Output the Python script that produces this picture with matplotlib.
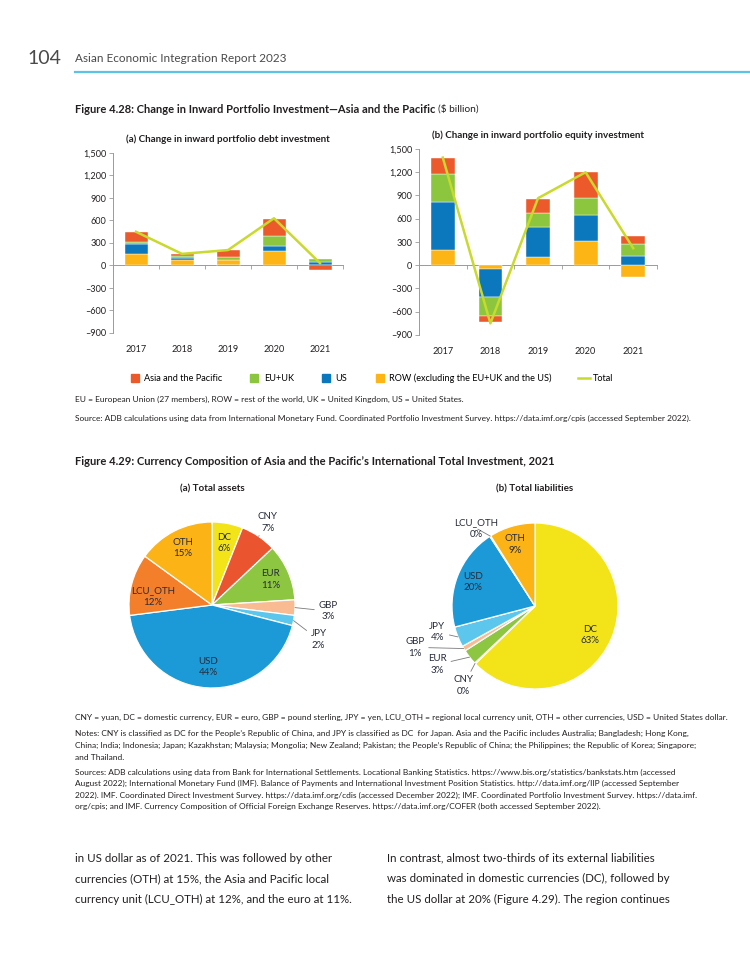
import numpy as np
import matplotlib
matplotlib.use("Agg")
import matplotlib.pyplot as plt
from matplotlib.lines import Line2D
from matplotlib.ticker import FuncFormatter

plt.rcParams['font.family'] = ['Lato', 'DejaVu Sans']

# ---- Figure 4.28 data ($ billion) ----
years = ['2017', '2018', '2019', '2020', '2021']

debt_row = [159, 75, 70, 194, 0]
debt_us = [128, 31, -8, 70, 44]
debt_euuk = [31, 18, 40, 128, 48]
debt_asia = [132, 31, 101, 234, -66]
debt_total = [450, 155, 206, 630, 32]

eq_row = [197, -47, 111, 313, -155]
eq_us = [613, -369, 381, 334, 125]
eq_euuk = [373, -244, 176, 227, 147]
eq_asia = [206, -77, 189, 326, 99]
eq_total = [1389, -750, 865, 1200, 220]

y_ticks = [-900, -600, -300, 0, 300, 600, 900, 1200, 1500]

# ---- Figure 4.29 data (% share) ----
currencies = ['DC', 'CNY', 'EUR', 'GBP', 'JPY', 'USD', 'LCU_OTH', 'OTH']
assets_share = [6, 7, 11, 3, 2, 44, 12, 15]
liab_share = [63, 0.2, 3, 1, 4, 20, 0.2, 9]

# colours
C_ASIA, C_EU, C_US, C_ROW = '#EC5A2C', '#8CC63F', '#0B77BD', '#FDB515'
C_TOTAL = '#C8DA2B'
pie_colors = {'DC': '#F3E41A', 'CNY': '#EA5530', 'EUR': '#8DC641', 'GBP': '#F9BC92',
              'JPY': '#5DC6EC', 'USD': '#1B9AD7', 'LCU_OTH': '#F47F2B', 'OTH': '#FCB316'}
TXT = '#231F20'
GRAY = '#9A9A9A'

W, H = 750, 971
fx = lambda x: x / W
fy = lambda y: 1 - y / H

fig = plt.figure(figsize=(7.5, 9.71), dpi=100)

# ---- page header ----
fig.text(fx(27), fy(58), '104', fontsize=14, color='#4A4A4A', va='center')
fig.text(fx(75), fy(58), 'Asian Economic Integration Report 2023', fontsize=8.5,
         color='#4A4A4A', va='center')
fig.add_artist(Line2D([fx(75), 1], [fy(72), fy(72)], color='#5BC4E6', lw=1.6))

renderer = fig.canvas.get_renderer()


def title_with_unit(x, y, bold, regular=None, size=8.0):
    t = fig.text(fx(x), fy(y), bold, fontsize=size, fontweight='bold', color=TXT, va='center')
    if regular:
        bb = t.get_window_extent(renderer)
        fig.text(bb.x1 / fig.bbox.width + 0.003, fy(y), regular, fontsize=size - 0.7,
                 color=TXT, va='center')


title_with_unit(75, 109, 'Figure 4.28: Change in Inward Portfolio Investment\u2014Asia and the Pacific',
                '($ billion)')


def dash_fmt(v, pos):
    return f'{v:,.0f}'.replace('-', '\u2013')


def stacked_panel(rect, parts, total, title):
    ax = fig.add_axes(rect)
    x = np.arange(len(years))
    pos_base = np.zeros(len(years))
    neg_base = np.zeros(len(years))
    for vals, color in parts:
        vals = np.array(vals, dtype=float)
        bottom = np.where(vals >= 0, pos_base, neg_base)
        ax.bar(x, vals, bottom=bottom, width=0.5, color=color, edgecolor='white',
               linewidth=0.3, zorder=2)
        pos_base += np.clip(vals, 0, None)
        neg_base += np.clip(vals, None, 0)
    ax.plot(x, total, color=C_TOTAL, lw=1.8, zorder=3)
    ax.set_xlim(-0.5, len(years) - 0.5)
    ax.set_ylim(-900, 1500)
    ax.set_yticks(y_ticks)
    ax.yaxis.set_major_formatter(FuncFormatter(dash_fmt))
    ax.set_xticks(x)
    ax.set_xticklabels(years)
    for s in ['top', 'right', 'bottom']:
        ax.spines[s].set_visible(False)
    ax.spines['left'].set_color(GRAY)
    ax.spines['left'].set_linewidth(0.7)
    ax.tick_params(axis='y', length=3, width=0.6, color=GRAY, labelsize=6.6,
                   labelcolor=TXT, pad=2)
    ax.tick_params(axis='x', length=0, labelsize=6.6, labelcolor=TXT, pad=9)
    # zero line with category-boundary ticks
    zero_frac = 900 / 2400
    sec = ax.secondary_xaxis(zero_frac)
    sec.set_xticks(np.arange(-0.5, len(years), 1.0))
    sec.set_xticklabels([])
    sec.tick_params(length=3, width=0.6, color=GRAY, direction='out')
    sec.spines['bottom'].set_color(GRAY)
    sec.spines['bottom'].set_linewidth(0.7)
    ax.set_title(title, fontsize=7.1, fontweight='bold', color=TXT, pad=8)
    return ax


stacked_panel([fx(113), fy(333), 230 / W, 180 / H],
              [(debt_row, C_ROW), (debt_us, C_US), (debt_euuk, C_EU), (debt_asia, C_ASIA)],
              debt_total, '(a) Change in inward portfolio debt investment')
stacked_panel([fx(419), fy(335), 238 / W, 186 / H],
              [(eq_row, C_ROW), (eq_us, C_US), (eq_euuk, C_EU), (eq_asia, C_ASIA)],
              eq_total, '(b) Change in inward portfolio equity investment')

handles = [Line2D([], [], marker='s', ls='none', color=c, markersize=5.5)
           for c in [C_ASIA, C_EU, C_US, C_ROW]]
handles.append(Line2D([], [], color=C_TOTAL, lw=1.8))
fig.legend(handles, ['Asia and the Pacific', 'EU+UK', 'US',
                     'ROW (excluding the EU+UK and the US)', 'Total'],
           loc='center', bbox_to_anchor=(fx(371), fy(378)), ncol=5, frameon=False,
           fontsize=6.6, handlelength=1.3, handletextpad=0.35, columnspacing=2.9)

note_kw = dict(fontsize=6.0, color=TXT, va='center')
fig.text(fx(75), fy(399), 'EU = European Union (27 members), ROW = rest of the world, '
         'UK = United Kingdom, US = United States.', **note_kw)
fig.text(fx(75), fy(418), 'Source: ADB calculations using data from International Monetary Fund. '
         'Coordinated Portfolio Investment Survey. https://data.imf.org/cpis (accessed September 2022).',
         **note_kw)

# ---- Figure 4.29 ----
title_with_unit(75, 461, 'Figure 4.29: Currency Composition of Asia and the Pacific\u2019s '
                'International Total Investment, 2021')

# label layout: (radius in R, angle override in degrees or None)
assets_lbl = {'DC': (0.76, None), 'CNY': (1.2, None), 'EUR': (0.77, None),
              'GBP': (1.4, -3), 'JPY': (1.35, -18), 'USD': (0.75, None),
              'LCU_OTH': (0.72, 172), 'OTH': (0.77, None)}
liab_lbl = {'DC': (0.75, -28), 'CNY': (1.29, -132), 'EUR': (1.37, -149),
            'GBP': (1.53, -161), 'JPY': (1.22, -165), 'USD': (0.8, None),
            'LCU_OTH': (1.17, 127), 'OTH': (0.78, 108)}


def pie_panel(cx, cy, shares, layout, title):
    r_px = 83
    half = 100
    ax = fig.add_axes([fx(cx - half), fy(cy + half), 2 * half / W, 2 * half / H])
    wedges, _ = ax.pie(shares, colors=[pie_colors[c] for c in currencies], startangle=90,
                       counterclock=False, radius=1,
                       wedgeprops=dict(edgecolor='white', linewidth=0.9))
    lim = half / r_px
    ax.set_xlim(-lim, lim)
    ax.set_ylim(-lim, lim)
    ax.set_aspect('equal')
    ax.axis('off')
    for w, cur, val in zip(wedges, currencies, shares):
        r, ang = layout[cur]
        mid = np.deg2rad((w.theta1 + w.theta2) / 2)
        a = mid if ang is None else np.deg2rad(ang)
        label = f'{cur}\n{round(val)}%'
        pos = (r * np.cos(a), r * np.sin(a))
        if r <= 1:
            ax.text(*pos, label, ha='center', va='center', fontsize=7.0,
                    color='#262B3A', linespacing=1.35)
        else:
            ax.annotate(label, xy=(np.cos(mid), np.sin(mid)), xytext=pos,
                        ha='center', va='center', fontsize=7.0, color='#262B3A',
                        linespacing=1.35,
                        arrowprops=dict(arrowstyle='-', color='#7A7A7A', lw=0.6,
                                        shrinkA=1, shrinkB=0))
    fig.text(fx(cx), fy(489), title, ha='center', va='center', fontsize=7.1,
             fontweight='bold', color=TXT)


pie_panel(212, 605, assets_share, assets_lbl, '(a) Total assets')
pie_panel(535, 606, liab_share, liab_lbl, '(b) Total liabilities')

notes_429 = [
    (717, 'CNY = yuan, DC = domestic currency, EUR = euro, GBP = pound sterling, JPY = yen, '
          'LCU_OTH = regional local currency unit, OTH = other currencies, USD = United States dollar.'),
    (733, 'Notes: CNY is classified as DC for the People\u2019s Republic of China, and JPY is classified '
          'as DC  for Japan. Asia and the Pacific includes Australia; Bangladesh; Hong Kong,'),
    (745, 'China; India; Indonesia; Japan; Kazakhstan; Malaysia; Mongolia; New Zealand; Pakistan; '
          'the People\u2019s Republic of China; the Philippines; the Republic of Korea; Singapore;'),
    (757, 'and Thailand.'),
    (772, 'Sources: ADB calculations using data from Bank for International Settlements. Locational '
          'Banking Statistics. https://www.bis.org/statistics/bankstats.htm (accessed'),
    (783, 'August 2022); International Monetary Fund (IMF). Balance of Payments and International '
          'Investment Position Statistics. http://data.imf.org/IIP (accessed September'),
    (795, '2022). IMF. Coordinated Direct Investment Survey. https://data.imf.org/cdis (accessed '
          'December 2022); IMF. Coordinated Portfolio Investment Survey. https://data.imf.'),
    (806, 'org/cpis; and IMF. Currency Composition of Official Foreign Exchange Reserves. '
          'https://data.imf.org/COFER (both accessed September 2022).'),
]
for y, line in notes_429:
    fig.text(fx(75), fy(y), line, **note_kw)

# ---- body text ----
body_left = ['in US dollar as of 2021. This was followed by other',
             'currencies (OTH) at 15%, the Asia and Pacific local',
             'currency unit (LCU_OTH) at 12%, and the euro at 11%.']
body_right = ['In contrast, almost two-thirds of its external liabilities',
              'was dominated in domestic currencies (DC), followed by',
              'the US dollar at 20% (Figure 4.29). The region continues']
for i, (l, r) in enumerate(zip(body_left, body_right)):
    y = 858 + i * 20.5
    fig.text(fx(75), fy(y), l, fontsize=8.3, color=TXT, va='center')
    fig.text(fx(387), fy(y), r, fontsize=8.3, color=TXT, va='center')

fig.savefig('out.png', dpi=100)
